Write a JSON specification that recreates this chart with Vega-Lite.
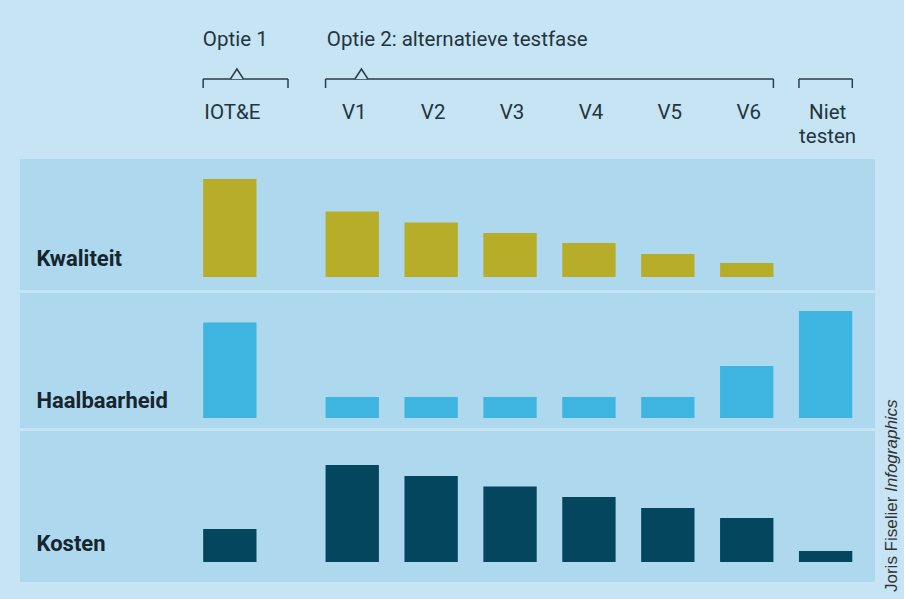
{
  "$schema": "https://vega.github.io/schema/vega-lite/v6.json",
  "background": "#c6e4f3",
  "padding": {"left": 20, "top": 9, "right": 29, "bottom": 17},
  "spacing": 3,
  "bounds": "flush",
  "config": {"view": {"stroke": null}, "font": "Roboto"},
  "datasets": {
    "scores": [
      {"aspect": "Kwaliteit", "optie": "IOT&E", "score": 98},
      {"aspect": "Kwaliteit", "optie": "V1", "score": 65.5},
      {"aspect": "Kwaliteit", "optie": "V2", "score": 54.5},
      {"aspect": "Kwaliteit", "optie": "V3", "score": 44},
      {"aspect": "Kwaliteit", "optie": "V4", "score": 34},
      {"aspect": "Kwaliteit", "optie": "V5", "score": 23},
      {"aspect": "Kwaliteit", "optie": "V6", "score": 14},
      {"aspect": "Kwaliteit", "optie": "Niet testen", "score": 0},
      {"aspect": "Haalbaarheid", "optie": "IOT&E", "score": 95.5},
      {"aspect": "Haalbaarheid", "optie": "V1", "score": 21},
      {"aspect": "Haalbaarheid", "optie": "V2", "score": 21},
      {"aspect": "Haalbaarheid", "optie": "V3", "score": 21},
      {"aspect": "Haalbaarheid", "optie": "V4", "score": 21},
      {"aspect": "Haalbaarheid", "optie": "V5", "score": 21},
      {"aspect": "Haalbaarheid", "optie": "V6", "score": 52},
      {"aspect": "Haalbaarheid", "optie": "Niet testen", "score": 107},
      {"aspect": "Kosten", "optie": "IOT&E", "score": 33},
      {"aspect": "Kosten", "optie": "V1", "score": 97},
      {"aspect": "Kosten", "optie": "V2", "score": 86},
      {"aspect": "Kosten", "optie": "V3", "score": 75.5},
      {"aspect": "Kosten", "optie": "V4", "score": 65},
      {"aspect": "Kosten", "optie": "V5", "score": 54},
      {"aspect": "Kosten", "optie": "V6", "score": 44},
      {"aspect": "Kosten", "optie": "Niet testen", "score": 11}
    ],
    "kolommen": [
      {"optie": "IOT&E"}, {"optie": "V1"}, {"optie": "V2"}, {"optie": "V3"},
      {"optie": "V4"}, {"optie": "V5"}, {"optie": "V6"}, {"optie": "Niet testen"}
    ],
    "groepen": [
      {"groep": "Optie 1", "van": "IOT&E", "tot": "IOT&E"},
      {"groep": "Optie 2: alternatieve testfase", "van": "V1", "tot": "V6"},
      {"groep": "", "van": "Niet testen", "tot": "Niet testen"}
    ]
  },
  "vconcat": [
    {
      "width": 855,
      "height": 147,
      "layer": [
        {
          "data": {"name": "groepen"},
          "transform": [{"filter": "datum.van === 'IOT&E'"}],
          "mark": {"type": "text", "align": "left", "baseline": "alphabetic", "fontSize": 20.5, "color": "#24343f", "xOffset": -43.8},
          "encoding": {
            "x": {"field": "van", "type": "nominal", "bandPosition": 0, "axis": null,
                  "scale": {"type": "band", "domain": ["IOT&E","V1","V2","V3","V4","V5","V6","Niet testen"], "range": [226.67, 832.3], "paddingInner": 0.324, "paddingOuter": 0}},
            "y": {"datum": "kop", "type": "nominal", "axis": null, "scale": {"type": "point", "domain": ["kop","haak","kolom"], "padding": 1.2615}},
            "text": {"field": "groep"}
          }
        },
        {
          "data": {"name": "groepen"},
          "transform": [{"filter": "datum.van === 'V1'"}],
          "mark": {"type": "text", "align": "left", "baseline": "alphabetic", "fontSize": 20.5, "color": "#24343f", "xOffset": 1.3},
          "encoding": {
            "x": {"field": "van", "type": "nominal", "bandPosition": 0, "axis": null},
            "y": {"datum": "kop", "type": "nominal", "axis": null},
            "text": {"field": "groep"}
          }
        },
        {
          "data": {"name": "groepen"},
          "transform": [{"filter": "datum.van === 'IOT&E'"}],
          "mark": {"type": "rule", "color": "#2c3d48", "strokeWidth": 1.5, "xOffset": -43.5, "x2Offset": -12, "yOffset": -3.5},
          "encoding": {
            "x": {"field": "van", "type": "nominal", "bandPosition": 0, "axis": null},
            "x2": {"field": "tot", "bandPosition": 1},
            "y": {"datum": "haak", "type": "nominal", "axis": null}
          }
        },
        {
          "data": {"name": "groepen"},
          "transform": [{"filter": "datum.van !== 'IOT&E'"}],
          "mark": {"type": "rule", "color": "#2c3d48", "strokeWidth": 1.5, "yOffset": -3.5},
          "encoding": {
            "x": {"field": "van", "type": "nominal", "bandPosition": 0, "axis": null},
            "x2": {"field": "tot", "bandPosition": 1},
            "y": {"datum": "haak", "type": "nominal", "axis": null}
          }
        },
        {
          "data": {"name": "groepen"},
          "transform": [{"filter": "datum.van === 'IOT&E'"}],
          "mark": {"type": "rule", "color": "#2c3d48", "strokeWidth": 1.5, "xOffset": -43.5, "yOffset": -3.5, "y2Offset": 5.5},
          "encoding": {
            "x": {"field": "van", "type": "nominal", "bandPosition": 0, "axis": null},
            "y": {"datum": "haak", "type": "nominal", "axis": null},
            "y2": {"datum": "haak"}
          }
        },
        {
          "data": {"name": "groepen"},
          "transform": [{"filter": "datum.van === 'IOT&E'"}],
          "mark": {"type": "rule", "color": "#2c3d48", "strokeWidth": 1.5, "xOffset": -12, "yOffset": -3.5, "y2Offset": 5.5},
          "encoding": {
            "x": {"field": "tot", "type": "nominal", "bandPosition": 1, "axis": null},
            "y": {"datum": "haak", "type": "nominal", "axis": null},
            "y2": {"datum": "haak"}
          }
        },
        {
          "data": {"name": "groepen"},
          "transform": [{"filter": "datum.van !== 'IOT&E'"}],
          "mark": {"type": "rule", "color": "#2c3d48", "strokeWidth": 1.5, "yOffset": -3.5, "y2Offset": 5.5},
          "encoding": {
            "x": {"field": "van", "type": "nominal", "bandPosition": 0, "axis": null},
            "y": {"datum": "haak", "type": "nominal", "axis": null},
            "y2": {"datum": "haak"}
          }
        },
        {
          "data": {"name": "groepen"},
          "transform": [{"filter": "datum.van !== 'IOT&E'"}],
          "mark": {"type": "rule", "color": "#2c3d48", "strokeWidth": 1.5, "yOffset": -3.5, "y2Offset": 5.5},
          "encoding": {
            "x": {"field": "tot", "type": "nominal", "bandPosition": 1, "axis": null},
            "y": {"datum": "haak", "type": "nominal", "axis": null},
            "y2": {"datum": "haak"}
          }
        },
        {
          "data": {"name": "groepen"},
          "transform": [{"filter": "datum.van === 'IOT&E'"}],
          "mark": {"type": "point", "shape": "M-1,0.77L0,-0.77L1,0.77", "size": 169, "filled": true, "opacity": 1, "fill": "#c6e4f3", "stroke": "#2c3d48", "strokeWidth": 1.5, "xOffset": -36.4, "yOffset": -8.5},
          "encoding": {
            "x": {"field": "van", "type": "nominal", "axis": null},
            "y": {"datum": "haak", "type": "nominal", "axis": null}
          }
        },
        {
          "data": {"name": "groepen"},
          "transform": [{"filter": "datum.van === 'V1'"}],
          "mark": {"type": "point", "shape": "M-1,0.77L0,-0.77L1,0.77", "size": 169, "filled": true, "opacity": 1, "fill": "#c6e4f3", "stroke": "#2c3d48", "strokeWidth": 1.5, "xOffset": 9.2, "yOffset": -8.5},
          "encoding": {
            "x": {"field": "van", "type": "nominal", "axis": null},
            "y": {"datum": "haak", "type": "nominal", "axis": null}
          }
        },
        {
          "data": {"name": "kolommen"},
          "transform": [{"filter": "datum.optie === 'IOT&E'"}],
          "mark": {"type": "text", "align": "center", "baseline": "alphabetic", "fontSize": 20.5, "color": "#24343f", "xOffset": -41},
          "encoding": {
            "x": {"field": "optie", "type": "nominal", "axis": null},
            "y": {"datum": "kolom", "type": "nominal", "axis": null},
            "text": {"field": "optie"}
          }
        },
        {
          "data": {"name": "kolommen"},
          "transform": [{"filter": "datum.optie !== 'IOT&E'"}],
          "mark": {"type": "text", "align": "center", "baseline": "alphabetic", "fontSize": 20.5, "color": "#24343f", "xOffset": 2, "lineBreak": " ", "lineHeight": 24},
          "encoding": {
            "x": {"field": "optie", "type": "nominal", "axis": null},
            "y": {"datum": "kolom", "type": "nominal", "axis": null},
            "text": {"field": "optie"}
          }
        }
      ]
    },
    {
      "width": 855,
      "height": 131,
      "view": {"fill": "#add8ee", "stroke": null},
      "data": {"name": "scores"},
      "encoding": {
        "x": {"field": "optie", "type": "nominal", "axis": null,
              "scale": {"type": "band", "domain": ["IOT&E","V1","V2","V3","V4","V5","V6","Niet testen"], "range": [226.67, 832.3], "paddingInner": 0.324, "paddingOuter": 0}},
        "y": {"field": "score", "type": "quantitative",
              "scale": {"domain": [-13, 118], "nice": false, "zero": false},
              "axis": {"title": "Kwaliteit", "domain": false, "ticks": false, "labels": false, "grid": false,
                       "titleAngle": 0, "titleAlign": "left", "titleBaseline": "alphabetic", "titleX": 16, "titleY": 106, "titleLimit": 400,
                       "titleFont": "Roboto", "titleFontSize": 22, "titleFontWeight": "bold", "titleColor": "#17252e"}},
        "color": {"field": "aspect", "type": "nominal", "legend": null,
                  "scale": {"domain": ["Kwaliteit","Haalbaarheid","Kosten"], "range": ["#b7ad28","#3db5e0","#05465f"]}}
      },
      "layer": [
        {"transform": [{"filter": "datum.aspect === 'Kwaliteit' && datum.optie !== 'IOT&E'"}], "mark": {"type": "bar"}},
        {"transform": [{"filter": "datum.aspect === 'Kwaliteit' && datum.optie === 'IOT&E'"}], "mark": {"type": "bar", "xOffset": -43.5}}
      ]
    },
    {
      "width": 855,
      "height": 135,
      "view": {"fill": "#add8ee", "stroke": null},
      "data": {"name": "scores"},
      "encoding": {
        "x": {"field": "optie", "type": "nominal", "axis": null,
              "scale": {"type": "band", "domain": ["IOT&E","V1","V2","V3","V4","V5","V6","Niet testen"], "range": [226.67, 832.3], "paddingInner": 0.324, "paddingOuter": 0}},
        "y": {"field": "score", "type": "quantitative",
              "scale": {"domain": [-10, 125], "nice": false, "zero": false},
              "axis": {"title": "Haalbaarheid", "domain": false, "ticks": false, "labels": false, "grid": false,
                       "titleAngle": 0, "titleAlign": "left", "titleBaseline": "alphabetic", "titleX": 16, "titleY": 114, "titleLimit": 400,
                       "titleFont": "Roboto", "titleFontSize": 22, "titleFontWeight": "bold", "titleColor": "#17252e"}},
        "color": {"field": "aspect", "type": "nominal", "legend": null,
                  "scale": {"domain": ["Kwaliteit","Haalbaarheid","Kosten"], "range": ["#b7ad28","#3db5e0","#05465f"]}}
      },
      "layer": [
        {"transform": [{"filter": "datum.aspect === 'Haalbaarheid' && datum.optie !== 'IOT&E'"}], "mark": {"type": "bar"}},
        {"transform": [{"filter": "datum.aspect === 'Haalbaarheid' && datum.optie === 'IOT&E'"}], "mark": {"type": "bar", "xOffset": -43.5}}
      ]
    },
    {
      "width": 855,
      "height": 151,
      "view": {"fill": "#add8ee", "stroke": null},
      "data": {"name": "scores"},
      "encoding": {
        "x": {"field": "optie", "type": "nominal", "axis": null,
              "scale": {"type": "band", "domain": ["IOT&E","V1","V2","V3","V4","V5","V6","Niet testen"], "range": [226.67, 832.3], "paddingInner": 0.324, "paddingOuter": 0}},
        "y": {"field": "score", "type": "quantitative",
              "scale": {"domain": [-20, 131], "nice": false, "zero": false},
              "axis": {"title": "Kosten", "domain": false, "ticks": false, "labels": false, "grid": false,
                       "titleAngle": 0, "titleAlign": "left", "titleBaseline": "alphabetic", "titleX": 16, "titleY": 119, "titleLimit": 400,
                       "titleFont": "Roboto", "titleFontSize": 22, "titleFontWeight": "bold", "titleColor": "#17252e"}}
      },
      "layer": [
        {"transform": [{"filter": "datum.aspect === 'Kosten' && datum.optie !== 'IOT&E'"}], "mark": {"type": "bar", "color": "#05465f"}},
        {"transform": [{"filter": "datum.aspect === 'Kosten' && datum.optie === 'IOT&E'"}], "mark": {"type": "bar", "color": "#05465f", "xOffset": -43.5}},
        {
          "transform": [{"filter": "datum.aspect === 'Kosten' && datum.optie === 'Niet testen'"}],
          "mark": {"type": "text", "text": "Joris Fiselier", "angle": 270, "align": "left", "baseline": "alphabetic", "font": "Liberation Sans", "fontSize": 17, "color": "#333333", "xOffset": 71.4, "yOffset": 41}
        },
        {
          "transform": [{"filter": "datum.aspect === 'Kosten' && datum.optie === 'Niet testen'"}],
          "mark": {"type": "text", "text": "Infographics", "angle": 270, "align": "left", "baseline": "alphabetic", "font": "Liberation Sans", "fontSize": 17, "fontStyle": "italic", "color": "#333333", "xOffset": 71.4, "yOffset": 41, "dx": 100}
        }
      ]
    }
  ]
}
